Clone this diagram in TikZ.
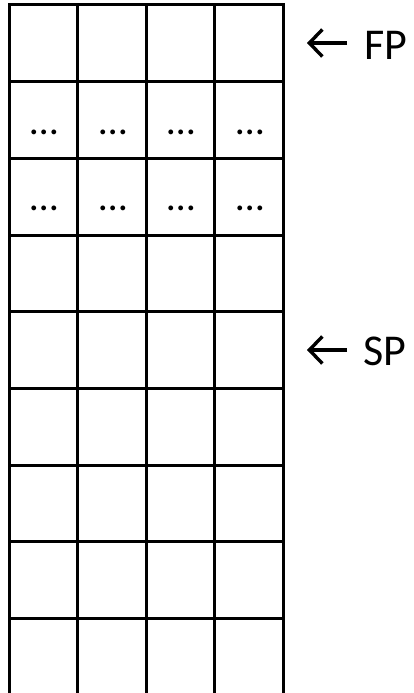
\documentclass[tikz,border=0pt]{standalone}
\usepackage{fontspec}
\setmainfont{Carlito}
\usetikzlibrary{arrows.meta,calc}
\begin{document}
\begin{tikzpicture}[x=1pt,y=-1pt,
  cell/.style={draw, line width=3pt, minimum width=68.6pt, minimum height=76.7pt, inner sep=0pt, outer sep=0pt},
  dots/.style={font=\fontsize{40}{40}\selectfont, inner sep=0pt},
  lbl/.style={font=\fontsize{44}{44}\selectfont, inner sep=0pt, anchor=west},
  ptr/.style={line width=3.4pt, -{Straight Barb[length=13pt,width=27pt,line width=3.4pt]}}]
\useasboundingbox (0,0) rectangle (413,693);
\foreach \r in {1,...,9}{
  \foreach \c in {1,...,4}{
    \node[cell] (c-\r-\c) at ({9+68.6*(\c-0.5)},{5+76.7*(\r-0.5)}) {};
  }
}
\foreach \r in {2,3}{
  \foreach \c in {1,...,4}{
    \node[dots] (d-\r-\c) at ($(c-\r-\c.center)+(1,12)$) {…};
  }
}
\node[lbl] (fp) at (364,45) {FP};
\node[lbl] (sp) at (363,351) {SP};
\coordinate (fpt) at (347,43);
\coordinate (spt) at (347,350);
\draw[ptr] (fpt) -- ++(-40,0);
\draw[ptr] (spt) -- ++(-40,0);
\end{tikzpicture}
\end{document}
